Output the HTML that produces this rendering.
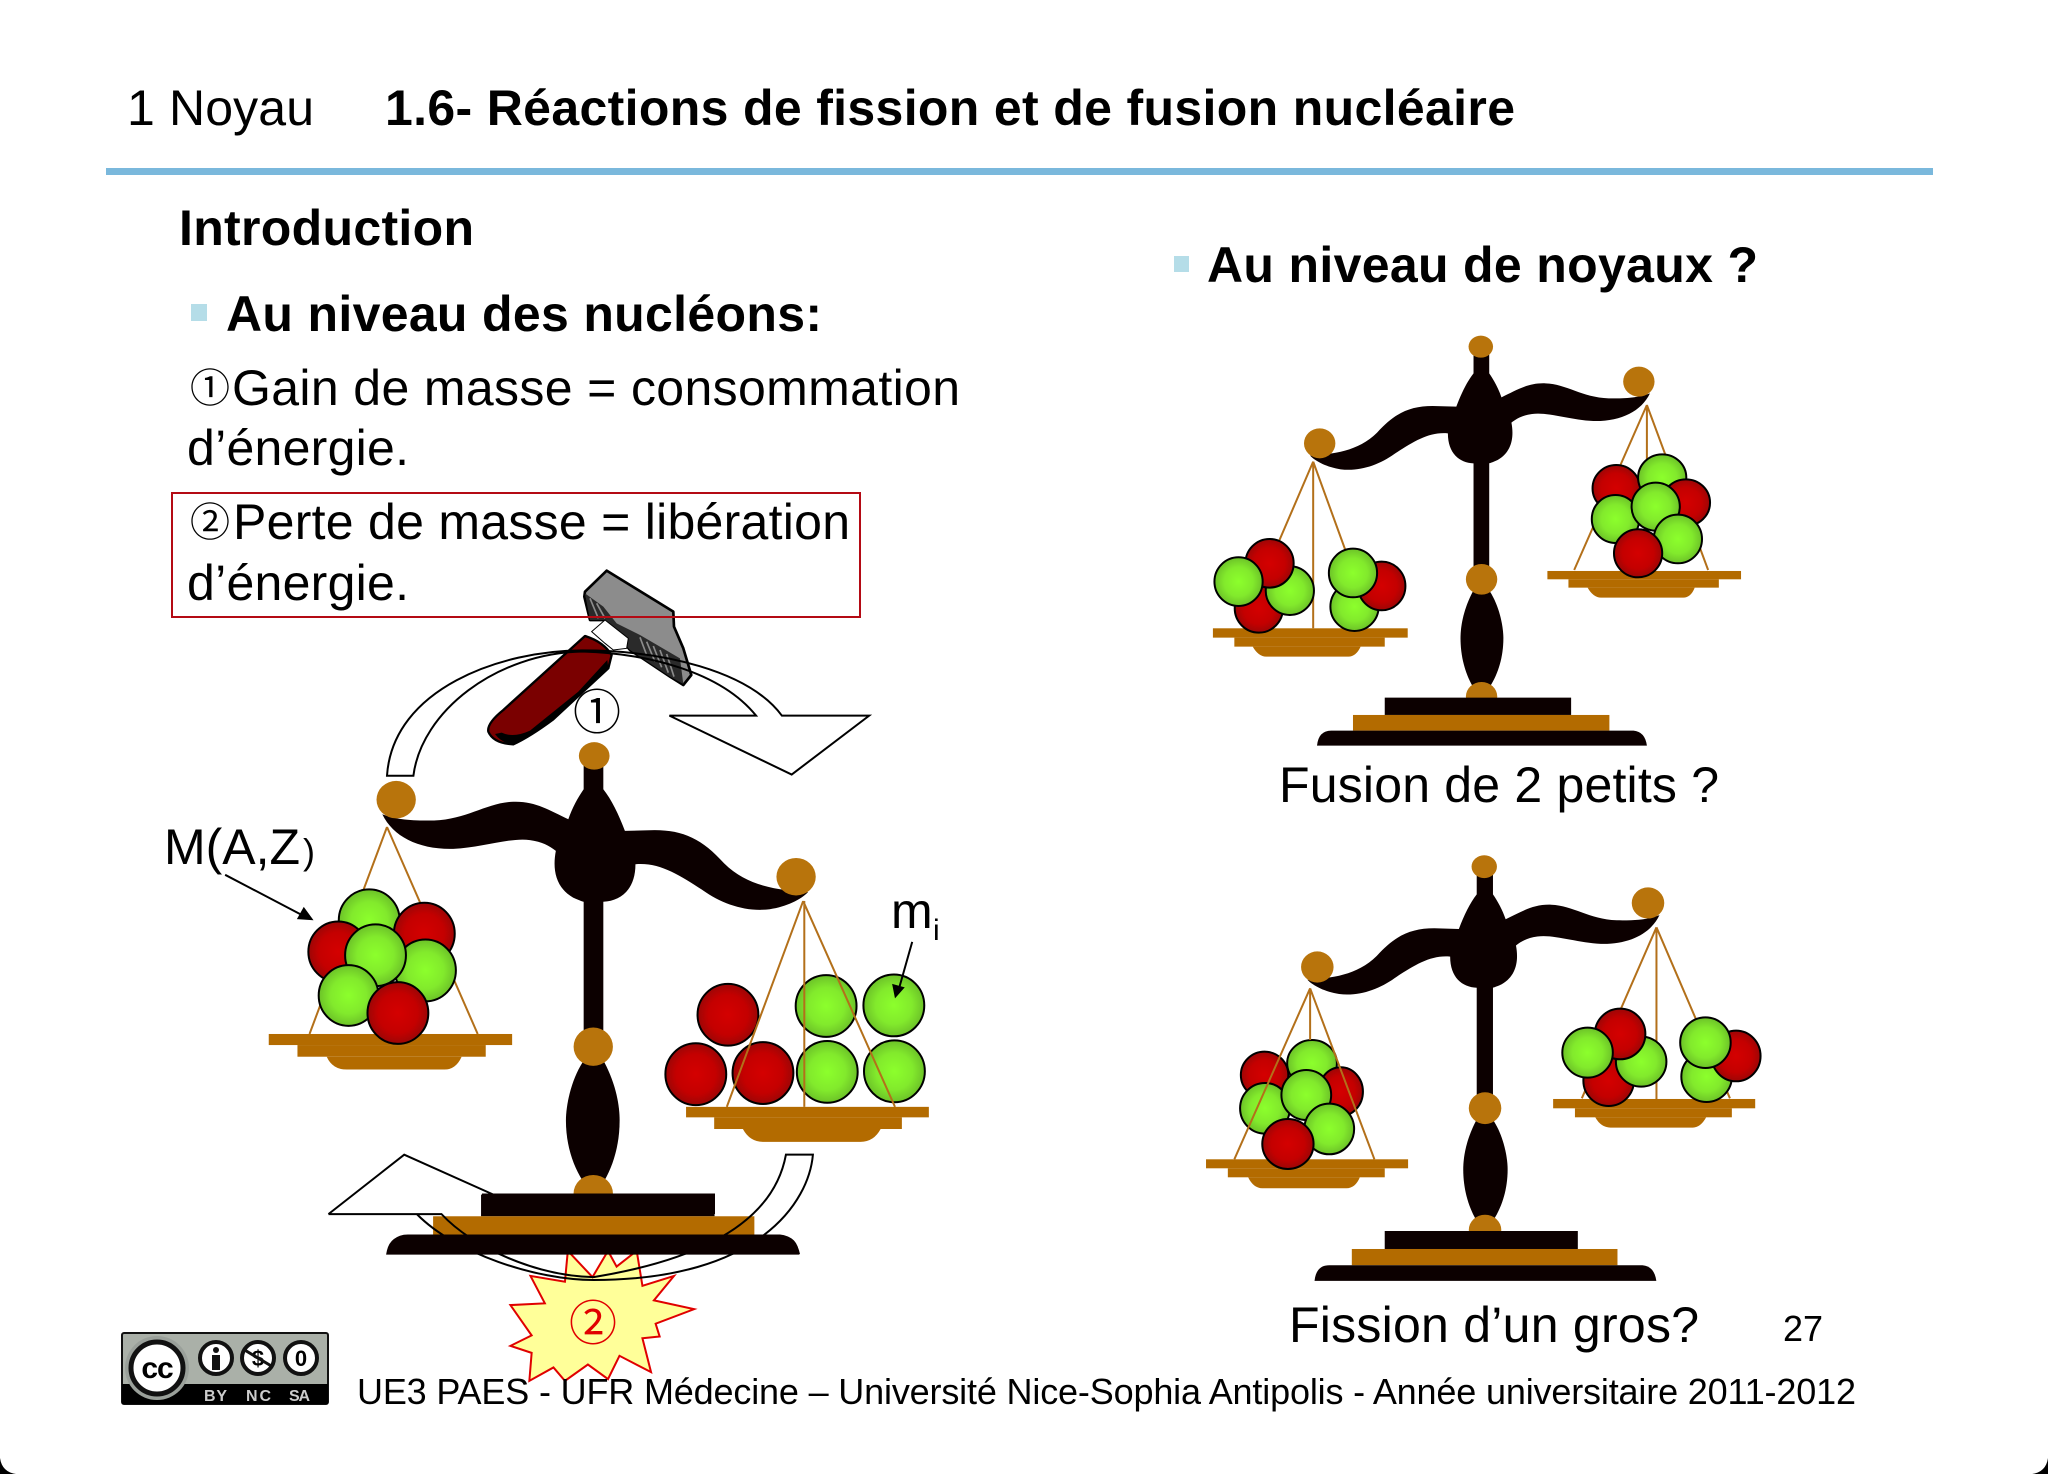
<!DOCTYPE html>
<html lang="fr"><head><meta charset="utf-8"><title>Réactions de fission et de fusion nucléaire</title>
<style>
html,body{margin:0;padding:0;background:#fff}
svg{display:block}
text{font-family:"Liberation Sans","Noto Sans CJK JP",sans-serif;fill:#000}
.b{font-weight:bold}
.g{fill:url(#gg);stroke:#000;stroke-width:2;vector-effect:non-scaling-stroke}
.r{fill:url(#rr);stroke:#000;stroke-width:2;vector-effect:non-scaling-stroke}
.rope{stroke:#b3701a;stroke-width:2;fill:none;vector-effect:non-scaling-stroke}
.pan{fill:#b36b00}
.arr{fill:none;stroke:#000;stroke-width:2;vector-effect:non-scaling-stroke}
</style></head><body>
<svg width="2048" height="1474" viewBox="0 0 2048 1474" xmlns="http://www.w3.org/2000/svg">
<defs>
<radialGradient id="gg"><stop offset="0" stop-color="#8cff2c"/><stop offset=".6" stop-color="#82ea2c"/><stop offset="1" stop-color="#6cc228"/></radialGradient>
<radialGradient id="rr"><stop offset="0" stop-color="#d40000"/><stop offset=".65" stop-color="#c40000"/><stop offset="1" stop-color="#9c0606"/></radialGradient>
<g id="body">
<path fill="#0c0000" d="M340,437 C400,432 465,425 515,368 C560,310 600,288 660,288 L722,290 C735,250 750,215 767,190 L767,130 L808,130 L808,190 C820,210 832,235 840,262 C880,240 910,218 955,220 C1010,222 1050,262 1120,265 C1170,266 1200,262 1228,250 C1205,305 1150,335 1080,333 C1020,330 960,305 920,312 C895,316 880,325 866,338 C873,380 868,425 830,450 C815,458 808,460 808,460 L808,800 L767,800 L767,460 C730,458 700,430 700,370 C650,365 610,395 560,432 C520,465 470,485 420,478 C385,472 355,455 340,437Z"/>
<path fill="#0c0000" d="M765,845 C740,900 733,950 733,985 C733,1040 745,1090 765,1130 L810,1130 C832,1090 845,1040 845,985 C845,950 835,890 810,845Z"/>
<ellipse cx="786" cy="110" rx="32" ry="33" fill="#b8740c"/>
<ellipse cx="365" cy="400" rx="41" ry="45" fill="#b8740c"/>
<ellipse cx="1199" cy="215" rx="41" ry="45" fill="#b8740c"/>
<ellipse cx="788" cy="808" rx="41" ry="46" fill="#b8740c"/>
<ellipse cx="788" cy="1160" rx="41" ry="44" fill="#b8740c"/>
<rect x="535" y="1163" width="487" height="52" fill="#0c0000"/>
<rect x="452" y="1215" width="670" height="47" fill="#b36b00"/>
<path fill="#0c0000" d="M358,1307 Q362,1262 395,1262 L1185,1262 Q1215,1265 1220,1307Z"/>
</g>
</defs>

<rect width="2048" height="1474" fill="#fff"/>
<path d="M0,1474 L0,1458 Q2,1472 16,1474Z M2048,1474 L2048,1458 Q2046,1472 2032,1474Z" fill="#000"/>

<!-- header -->
<text x="127" y="125" font-size="50" textLength="187">1 Noyau</text>
<text x="385" y="125" font-size="50" class="b" textLength="1130">1.6- Réactions de fission et de fusion nucléaire</text>
<rect x="106" y="168" width="1827" height="7" fill="#7ab8dc"/>

<text x="179" y="245" font-size="50" class="b" textLength="295">Introduction</text>
<rect x="191" y="304" width="16" height="17" fill="#b5dde8"/>
<text x="226" y="331" font-size="50" class="b" textLength="596">Au niveau des nucléons:</text>
<text x="190" y="402" font-size="40">①</text>
<text x="232" y="405" font-size="50" textLength="728">Gain de masse = consommation</text>
<text x="187" y="465" font-size="50" textLength="222">d’énergie.</text>
<text x="190" y="536" font-size="40">②</text>
<text x="233" y="539" font-size="50" textLength="617">Perte de masse = libération</text>
<text x="187" y="600" font-size="50" textLength="222">d’énergie.</text>

<rect x="1174" y="256" width="15" height="16" fill="#b5dde8"/>
<text x="1207" y="282" font-size="50" class="b" textLength="551">Au niveau de noyaux ?</text>
<text x="1279" y="802" font-size="50" textLength="440">Fusion de 2 petits ?</text>
<text x="1289" y="1342" font-size="50" textLength="410">Fission d’un gros?</text>
<text x="1783" y="1341" font-size="36">27</text>

<!-- top-right scale -->
<g transform="matrix(.3827 0 0 .3333 1180 310)">
<path class="rope" d="M348,455 L260,690 M348,455 V955 M348,455 L432,720 M1220,285 L1030,780 M1220,285 V450 M1220,285 L1380,780"/>
<use href="#body"/>
<rect class="pan" x="86" y="955" width="509" height="28"/><rect class="pan" x="142" y="983" width="393" height="27"/>
<path class="pan" d="M190,1010 Q205,1040 225,1040 L440,1040 Q460,1040 472,1010Z"/>
<rect class="pan" x="960" y="783" width="506" height="25"/><rect class="pan" x="1015" y="808" width="393" height="25"/>
<path class="pan" d="M1065,833 Q1080,863 1100,863 L1315,863 Q1335,863 1345,833Z"/>
<ellipse class="r" cx="206" cy="895" rx="63" ry="73"/><ellipse class="g" cx="287" cy="842" rx="63" ry="73"/><ellipse class="r" cx="234" cy="760" rx="63" ry="73"/><ellipse class="g" cx="153" cy="815" rx="63" ry="73"/>
<ellipse class="g" cx="456" cy="890" rx="63" ry="73"/><ellipse class="r" cx="527" cy="828" rx="62" ry="73"/><ellipse class="g" cx="452" cy="789" rx="63" ry="73"/>
<ellipse class="r" cx="1140" cy="535" rx="62" ry="70"/><ellipse class="g" cx="1260" cy="503" rx="63" ry="70"/><ellipse class="r" cx="1322" cy="578" rx="63" ry="70"/><ellipse class="g" cx="1138" cy="627" rx="62" ry="72"/><ellipse class="g" cx="1243" cy="590" rx="63" ry="72"/><ellipse class="g" cx="1301" cy="687" rx="63" ry="73"/><ellipse class="r" cx="1197" cy="730" rx="63" ry="72"/>
</g>

<!-- bottom-right scale -->
<g transform="matrix(.3965 0 0 .346 1172.6 828.6)"><use href="#body"/></g>
<g transform="matrix(.3827 0 0 .3333 1180 840)">
<rect class="pan" x="68" y="958" width="528" height="27"/><rect class="pan" x="125" y="985" width="410" height="27"/>
<path class="pan" d="M178,1012 Q192,1045 215,1045 L435,1045 Q458,1045 470,1012Z"/>
<rect class="pan" x="975" y="777" width="528" height="28"/><rect class="pan" x="1032" y="805" width="410" height="27"/>
<path class="pan" d="M1085,832 Q1100,863 1125,863 L1340,863 Q1360,863 1375,832Z"/>
<path class="rope" d="M1245,262 L1050,775 M1245,262 V777 M1245,262 L1437,775"/>
<ellipse class="r" cx="221" cy="705" rx="62" ry="70"/><ellipse class="g" cx="345" cy="670" rx="65" ry="70"/><ellipse class="r" cx="420" cy="755" rx="58" ry="73"/><ellipse class="g" cx="222" cy="805" rx="65" ry="76"/><ellipse class="g" cx="330" cy="765" rx="65" ry="75"/><ellipse class="g" cx="390" cy="867" rx="65" ry="76"/><ellipse class="r" cx="282" cy="912" rx="67" ry="75"/>
<path class="rope" d="M340,445 L142,958 M340,445 V600 M340,445 L508,958"/>
<ellipse class="r" cx="1120" cy="722" rx="66" ry="76"/><ellipse class="g" cx="1205" cy="665" rx="66" ry="75"/><ellipse class="r" cx="1150" cy="582" rx="66" ry="76"/><ellipse class="g" cx="1065" cy="638" rx="66" ry="75"/>
<ellipse class="g" cx="1376" cy="710" rx="66" ry="76"/><ellipse class="r" cx="1453" cy="648" rx="64" ry="76"/><ellipse class="g" cx="1373" cy="608" rx="66" ry="76"/>
</g>

<!-- left scale -->
<g transform="matrix(.574 0 0 .583 100 560)">
<path fill="#ffff99" stroke="#e00000" stroke-width="2" vector-effect="non-scaling-stroke" d="M815,1185 L858,1230 L885,1185 L900,1212 L935,1185 L945,1245 L1000,1228 L965,1270 L1035,1285 L968,1310 L975,1332 L945,1335 L960,1393 L905,1365 L885,1405 L850,1380 L810,1408 L790,1385 L748,1408 L752,1360 L715,1348 L752,1330 L715,1278 L775,1275 L750,1228 L810,1238Z"/>
</g>
<g transform="matrix(-.4795 0 0 .4166 971.1 710.1)"><use href="#body"/></g>
<g transform="matrix(.574 0 0 .583 100 560)">
<path class="rope" d="M500,458 L365,813 M500,458 L658,813"/>
<rect class="pan" x="294" y="813" width="424" height="19"/><rect class="pan" x="344" y="832" width="328" height="20"/>
<path class="pan" d="M395,852 Q405,874 430,874 L600,874 Q620,874 630,852Z"/>
<rect class="pan" x="1021" y="938" width="423" height="18"/><rect class="pan" x="1070" y="956" width="327" height="20"/>
<path class="pan" d="M1120,976 Q1132,998 1155,998 L1325,998 Q1348,998 1360,976Z"/>
<circle class="g" cx="469" cy="618" r="53"/><circle class="r" cx="565" cy="641" r="53"/><circle class="r" cx="415" cy="672" r="52"/><circle class="g" cx="567" cy="704" r="53"/><circle class="g" cx="480" cy="678" r="53"/><circle class="g" cx="433" cy="747" r="52"/><circle class="r" cx="519" cy="777" r="53"/>
<circle class="r" cx="1094" cy="780" r="53"/><circle class="r" cx="1038" cy="882" r="53"/><circle class="r" cx="1155" cy="880" r="53"/><circle class="g" cx="1265" cy="765" r="53"/><circle class="g" cx="1383" cy="764" r="53"/><circle class="g" cx="1267" cy="878" r="53"/><circle class="g" cx="1384" cy="877" r="53"/>
<path class="rope" d="M1225,585 L1092,938 M1227,585 V938 M1225,585 L1385,938"/>
</g>

<!-- hammer -->
<g transform="translate(470 560) scale(.3333)">
<path fill="#8c8c8c" stroke="#000" stroke-width="8" stroke-linejoin="round" d="M345,95 L410,32 L610,155 L612,200 L640,265 L664,345 L640,375 L600,350 L480,270 L405,180 L360,180 L343,110Z"/>
<path fill="#2a2a2a" d="M345,100 L400,140 L440,190 L510,225 L630,295 L640,372 L600,350 L480,270 L405,180 L360,180Z"/>
<path stroke="#8c8c8c" stroke-width="5" fill="none" d="M360,115 L385,175 M380,130 L405,175 M510,232 L530,285 M530,245 L555,305 M550,258 L575,322 M570,270 L595,338 M590,282 L612,350"/>
<path fill="#7a0000" stroke="#000" stroke-width="7" stroke-linejoin="round" d="M345,228 L100,450 Q50,490 55,515 Q70,550 130,553 Q180,530 250,478 L415,325 L425,285 Q400,245 345,228Z"/>
<path fill="#000" d="M412,300 L415,325 L250,478 Q180,535 130,553 Q95,550 75,522 L95,518 Q130,535 180,512 L325,395Z"/>
<path fill="#fff" stroke="#000" stroke-width="3" d="M365,215 L405,180 L475,235 L470,265 L430,270 L405,250Z"/>
</g>

<!-- curved arrows -->
<g transform="matrix(.574 0 0 .583 100 560)">
<path class="arr" d="M500,370 C510,220 700,155 840,155 C980,155 1130,190 1188,267 L1340,267 L1205,368 L992,267 L1143,267 C1080,190 950,160 840,157 C690,160 560,260 546,370Z"/>
<path class="arr" d="M398,1122 L530,1020 L700,1095 M398,1122 L552,1122 C620,1190 760,1235 860,1235 C1150,1235 1235,1100 1242,1020 L1195,1020 C1180,1100 1110,1190 860,1230 C760,1228 650,1180 595,1122 L552,1122"/>
</g>
<rect x="482" y="1193.5" width="233" height="20.5" fill="#0c0000"/>
<path fill="#0c0000" d="M387,1254 Q390,1234.5 408,1234.5 L780,1234.5 Q796,1236 800,1254Z"/>

<!-- highlighted box -->
<rect x="172" y="493" width="688" height="124" fill="none" stroke="#b40a14" stroke-width="2"/>

<!-- labels in diagram -->
<text x="597" y="729" font-size="48" text-anchor="middle">①</text>
<text x="593" y="1340" font-size="48" text-anchor="middle" style="fill:#e00000">②</text>
<text x="164" y="864" font-size="50">M(A,Z</text>
<text x="303" y="864" font-size="36">)</text>
<text x="891" y="928" font-size="50">m</text>
<text x="933" y="940" font-size="30">i</text>
<g transform="matrix(.574 0 0 .583 100 560)">
<path class="arr" d="M218,540 L350,608 M1415,655 L1392,735"/>
<path d="M372,618 L343,616 L355,595Z M1385,752 L1380,727 L1402,733Z" fill="#000"/>
</g>

<!-- CC badge -->
<rect x="122" y="1333" width="206" height="71" rx="2" fill="#aab0a8" stroke="#111" stroke-width="2"/>
<rect x="122" y="1384" width="206" height="20" fill="#000"/>
<circle cx="157" cy="1368" r="32" fill="#9aa09a"/>
<circle cx="157" cy="1368" r="26" fill="#fff" stroke="#111" stroke-width="5"/>
<text x="157" y="1378" font-size="30" class="b" text-anchor="middle" letter-spacing="-1">cc</text>
<circle cx="216" cy="1358" r="16" fill="#fff" stroke="#111" stroke-width="4"/>
<circle cx="216" cy="1350" r="3" fill="#111"/><rect x="212" y="1355" width="8" height="15" fill="#111"/>
<circle cx="258" cy="1358" r="16" fill="#fff" stroke="#111" stroke-width="4"/>
<text x="258" y="1366" font-size="22" class="b" text-anchor="middle">$</text>
<path d="M243,1349 L273,1367" stroke="#111" stroke-width="3"/>
<circle cx="301" cy="1358" r="16" fill="#fff" stroke="#111" stroke-width="4"/>
<text x="301" y="1366" font-size="22" class="b" text-anchor="middle">0</text>
<text x="204" y="1401" font-size="16" class="b" textLength="23" style="fill:#ccc">BY</text>
<text x="246" y="1401" font-size="16" class="b" textLength="25" style="fill:#ccc">NC</text>
<text x="289" y="1401" font-size="16" class="b" textLength="21" style="fill:#ccc">SA</text>

<text x="357" y="1404" font-size="36" textLength="1499">UE3 PAES - UFR Médecine – Université Nice-Sophia Antipolis - Année universitaire 2011-2012</text>
</svg>
</body></html>
